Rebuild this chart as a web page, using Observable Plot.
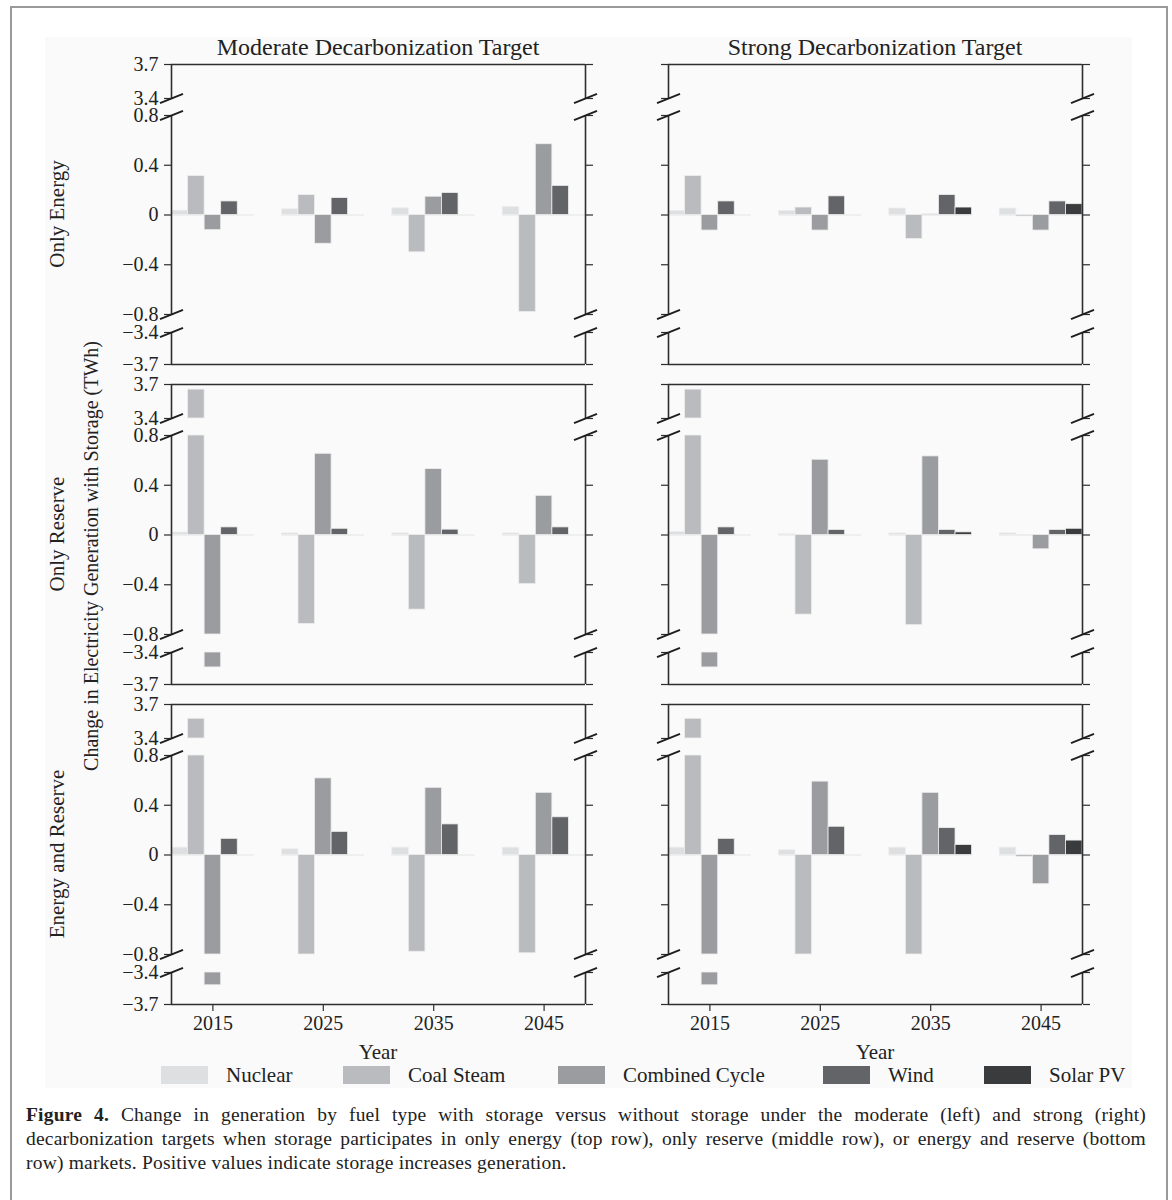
<!DOCTYPE html>
<html>
<head>
<meta charset="utf-8">
<script src="https://cdn.jsdelivr.net/npm/d3@7"></script>
<script src="https://cdn.jsdelivr.net/npm/@observablehq/plot@0.6"></script>
<style>
  body { margin: 0; background: #fff; }
  #fig { position: relative; width: 1172px; height: 1200px; overflow: hidden;
         font-family: "Liberation Serif", "Times New Roman", serif; color: #222; }
  .border { position: absolute; left: 10px; top: 6px; width: 1154px; height: 1220px; border: 2px solid #9a9a9a; }
  .bg { position: absolute; left: 45px; top: 37px; width: 1087px; height: 1051px; background: #fafafa; }
  .panel { position: absolute; }
  .coltitle { position: absolute; width: 414px; text-align: center; font-size: 24px; line-height: 24px; }
  .rot { position: absolute; transform: translate(-50%, -50%) rotate(-90deg); white-space: nowrap; line-height: 22px; }
  .xlabel { position: absolute; width: 414px; text-align: center; font-size: 21px; line-height: 24px; }
  .sw { position: absolute; width: 47px; height: 18px; }
  .lg { position: absolute; font-size: 21px; line-height: 24px; white-space: nowrap; }
  .cap { position: absolute; left: 26px; width: 1120px; font-size: 19.5px; line-height: 24px; letter-spacing: 0.2px; }
  .just { text-align: justify; text-align-last: justify; }
</style>
</head>
<body>
<div id="fig">
  <div class="border"></div>
  <div class="bg"></div>
</div>
<script>
// ---------------- data ----------------
const years = [2015, 2025, 2035, 2045];
const fuels = ["Nuclear", "Coal Steam", "Combined Cycle", "Wind", "Solar PV"];
const fuelColors = ["#dedfe1", "#babbbe", "#9b9ca0", "#636467", "#3a3b3d"];
const targets = ["Moderate Decarbonization Target", "Strong Decarbonization Target"];
const markets = ["Only Energy", "Only Reserve", "Energy and Reserve"];
const yTicks = [-3.7, -3.4, -0.8, -0.4, 0, 0.4, 0.8, 3.4, 3.7];
const yTickLabels = ["−3.7", "−3.4", "−0.8", "−0.4", "0", "0.4", "0.8", "3.4", "3.7"];
const yBreakDomain = [-3.7, -3.4, -0.8, 0.8, 3.4, 3.7];
const yTitle = "Change in Electricity Generation with Storage (TWh)";
const xTitle = "Year";

// rows: Nuclear, Coal Steam, Combined Cycle, Wind, Solar PV; columns: 2015, 2025, 2035, 2045
const moderateOnlyEnergy = [
  [0.035, 0.046, 0.054, 0.063],
  [0.313, 0.160, -0.300, -0.780],
  [-0.122, -0.231, 0.147, 0.569],
  [0.109, 0.136, 0.177, 0.234],
  [0, 0, 0, 0]
];
const strongOnlyEnergy = [
  [0.033, 0.033, 0.052, 0.052],
  [0.313, 0.060, -0.193, -0.012],
  [-0.125, -0.125, 0.005, -0.125],
  [0.109, 0.150, 0.160, 0.109],
  [0, 0, 0.060, 0.087]
];
const moderateOnlyReserve = [
  [0.020, 0.013, 0.013, 0.013],
  [3.655, -0.715, -0.600, -0.395],
  [-3.540, 0.653, 0.530, 0.315],
  [0.061, 0.050, 0.043, 0.061],
  [0, 0, 0, 0]
];
const strongOnlyReserve = [
  [0.024, 0.006, 0.013, 0.013],
  [3.655, -0.640, -0.725, -0.003],
  [-3.540, 0.605, 0.632, -0.115],
  [0.061, 0.040, 0.040, 0.040],
  [0, 0, 0.021, 0.050]
];
const moderateEnergyReserve = [
  [0.059, 0.046, 0.059, 0.059],
  [3.574, -0.800, -0.778, -0.790],
  [-3.520, 0.616, 0.540, 0.500],
  [0.130, 0.186, 0.246, 0.303],
  [0, 0, 0, 0]
];
const strongEnergyReserve = [
  [0.059, 0.038, 0.059, 0.059],
  [3.574, -0.800, -0.800, -0.016],
  [-3.520, 0.590, 0.500, -0.235],
  [0.130, 0.227, 0.216, 0.160],
  [0, 0, 0.081, 0.116]
];
const panelValues = [
  [moderateOnlyEnergy, strongOnlyEnergy],
  [moderateOnlyReserve, strongOnlyReserve],
  [moderateEnergyReserve, strongEnergyReserve]
];

// ---------------- layout ----------------
const fig = document.getElementById("fig");
const FONT = '"Liberation Serif", "Times New Roman", serif';
const innerW = 414, innerH = 300;
const mL = 60, mR = 30, mT = 10;
const colSpine = [171, 668];
const rowTop = [64, 384, 704];
// broken axis: each domain stop of yBreakDomain gets this many pixels above the panel bottom
const breakOffsets = [0, 32, 50, 249, 266, 300];
const breakScale = d3.scaleLinear().domain(yBreakDomain).range(breakOffsets);
const barW = 1.5; // bar width in years
const xDomain = [years[0] - 2.5 * barW, years[years.length - 1] + 2.5 * barW];
const sections = [[3.4, 3.7], [-0.8, 0.8], [-3.7, -3.4]];
const breakVals = [3.4, 0.8, -0.8, -3.4];
const INK = "#2e2e2e";

const slash = {
  draw(ctx, size) {
    const r = Math.sqrt(size / Math.PI);
    ctx.moveTo(-r, r * 0.4);
    ctx.lineTo(r, -r * 0.4);
  }
};

function makePanel(values, row, col) {
  const bottom = row === 2;
  const mB = bottom ? 40 : 10;
  const bars = [];
  fuels.forEach((fuel, i) => years.forEach((yr, j) => {
    const v = values[i][j];
    const lo = Math.min(0, v), hi = Math.max(0, v);
    sections.forEach(([a, b]) => {
      const y1 = Math.max(lo, a), y2 = Math.min(hi, b);
      if (y1 < y2) bars.push({fuel, x1: yr + (i - 2) * barW - barW / 2, x2: yr + (i - 2) * barW + barW / 2, y1, y2});
    });
  }));
  const spines = [];
  xDomain.forEach(x => sections.forEach(([a, b]) => spines.push({x, y1: a, y2: b})));
  const breaks = [];
  xDomain.forEach(x => breakVals.forEach(y => breaks.push({x, y})));

  const marks = [
    Plot.ruleY(years, {y: () => 0, x1: d => d - 2.5 * barW, x2: d => d + 2.5 * barW, stroke: "#e3e3e3", strokeWidth: 1.2}),
    Plot.rectY(bars, {x1: d => d.x1, x2: d => d.x2, y1: d => d.y1, y2: d => d.y2, fill: d => d.fuel, stroke: "#ededed", strokeWidth: 0.8}),
    Plot.ruleX(spines, {x: d => d.x, y1: d => d.y1, y2: d => d.y2, stroke: INK, strokeWidth: 1.6}),
    Plot.ruleY([3.7, -3.7], {y: d => d, x1: () => xDomain[0], x2: () => xDomain[1], stroke: INK, strokeWidth: 1.6}),
    Plot.axisY(yTicks, {anchor: "left", tickSize: 7, tickPadding: 6, stroke: INK, strokeWidth: 1.2,
      tickFormat: col === 0 ? (d => yTickLabels[yTicks.indexOf(d)]) : (() => ""), fontSize: 20, label: null}),
    Plot.axisY(yTicks, {anchor: "right", tickSize: 7, stroke: INK, strokeWidth: 1.2, tickFormat: () => "", label: null}),
    Plot.dot(breaks, {x: d => d.x, y: d => d.y, symbol: slash, r: 11.5, stroke: "#1e1e1e", strokeWidth: 1.9, fill: "none"})
  ];
  if (bottom) {
    marks.push(Plot.axisX(years, {anchor: "bottom", tickSize: 7, tickPadding: 4, stroke: INK, strokeWidth: 1.2,
      tickFormat: d => String(d), fontSize: 20, label: null}));
  }
  const svg = Plot.plot({
    width: innerW + mL + mR,
    height: innerH + mT + mB,
    marginLeft: mL, marginRight: mR, marginTop: mT, marginBottom: mB,
    x: {domain: xDomain, axis: bottom ? undefined : null, label: null},
    y: {transform: v => breakScale(v), domain: [0, innerH], label: null},
    color: {domain: fuels, range: fuelColors},
    style: {fontFamily: FONT, fontSize: "20px", background: "transparent", color: "#222", overflow: "visible"},
    marks
  });
  const wrap = document.createElement("div");
  wrap.className = "panel";
  wrap.style.left = (colSpine[col] - mL) + "px";
  wrap.style.top = (rowTop[row] - mT) + "px";
  wrap.appendChild(svg);
  fig.appendChild(wrap);
}

panelValues.forEach((rowVals, r) => rowVals.forEach((vals, c) => makePanel(vals, r, c)));

// column titles
targets.forEach((t, c) => {
  const d = document.createElement("div");
  d.className = "coltitle";
  d.style.left = colSpine[c] + "px";
  d.style.top = "35px";
  d.textContent = t;
  fig.appendChild(d);
});
// row labels
markets.forEach((m, r) => {
  const d = document.createElement("div");
  d.className = "rot";
  d.style.fontSize = "21px";
  d.style.left = "57px";
  d.style.top = (rowTop[r] + innerH / 2) + "px";
  d.textContent = m;
  fig.appendChild(d);
});
{
  const d = document.createElement("div");
  d.className = "rot";
  d.style.fontSize = "20px";
  d.style.left = "91px";
  d.style.top = "556px";
  d.textContent = yTitle;
  fig.appendChild(d);
}
// x titles
colSpine.forEach(x => {
  const d = document.createElement("div");
  d.className = "xlabel";
  d.style.left = x + "px";
  d.style.top = "1040px";
  d.textContent = xTitle;
  fig.appendChild(d);
});
// legend
const legendLeft = [161, 343, 558, 823, 984];
fuels.forEach((f, i) => {
  const s = document.createElement("div");
  s.className = "sw";
  s.style.left = legendLeft[i] + "px";
  s.style.top = "1066px";
  s.style.background = fuelColors[i];
  fig.appendChild(s);
  const l = document.createElement("div");
  l.className = "lg";
  l.style.left = (legendLeft[i] + 65) + "px";
  l.style.top = "1063px";
  l.textContent = f;
  fig.appendChild(l);
});
// caption
const capLines = [
  ["<b>Figure 4.</b> Change in generation by fuel type with storage versus without storage under the moderate (left) and strong (right)", true],
  ["decarbonization targets when storage participates in only energy (top row), only reserve (middle row), or energy and reserve (bottom", true],
  ["row) markets. Positive values indicate storage increases generation.", false]
];
capLines.forEach(([html, j], i) => {
  const d = document.createElement("div");
  d.className = "cap" + (j ? " just" : "");
  d.style.top = (1103 + i * 24) + "px";
  d.innerHTML = html;
  fig.appendChild(d);
});
</script>
</body>
</html>
